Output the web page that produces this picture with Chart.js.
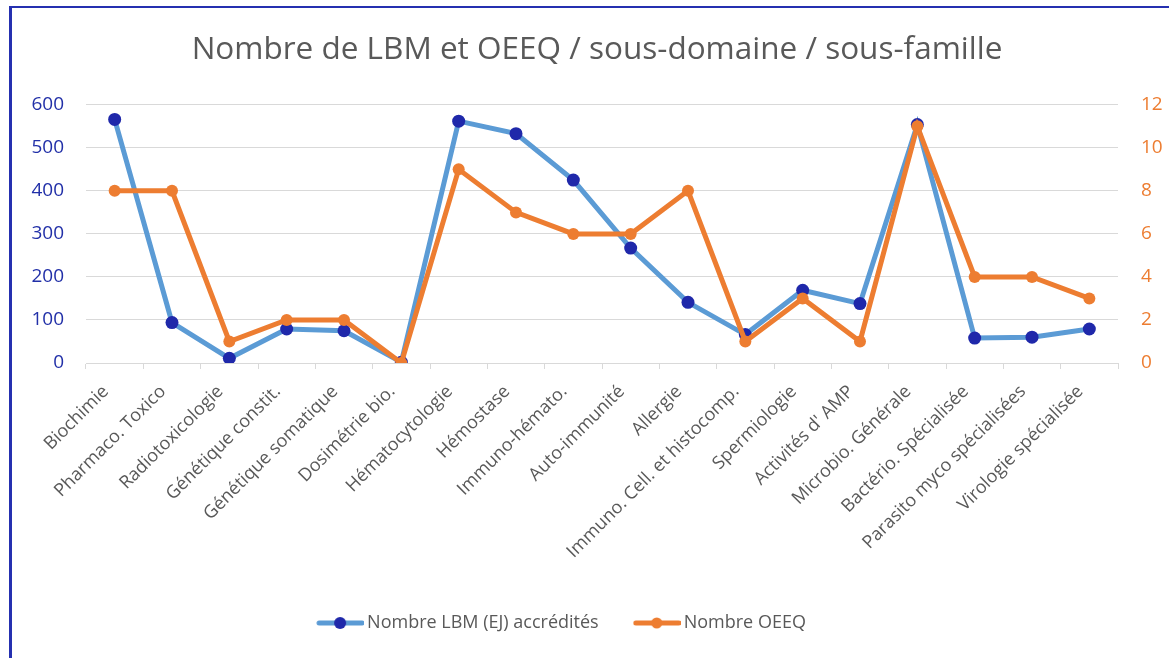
<!DOCTYPE html>
<html>
<head>
<meta charset="utf-8">
<script src="https://cdn.jsdelivr.net/npm/chart.js@4.4.0/dist/chart.umd.min.js"></script>
<style>
body { margin: 0; background: #fff; }
#wrap { position: relative; width: 1169px; height: 658px; overflow: hidden; }
#frame { position: absolute; left: 9px; top: 6px; width: 1300px; height: 800px; border-top: 2px solid #2530B0; border-left: 3px solid #2530B0; pointer-events: none; }
</style>
</head>
<body>
<div id="wrap">
<canvas id="chart" width="1169" height="658"></canvas>
<div id="frame"></div>
</div>
<script>
const categories = ["Biochimie", "Pharmaco. Toxico", "Radiotoxicologie", "Génétique constit.", "Génétique somatique", "Dosimétrie bio.", "Hématocytologie", "Hémostase", "Immuno-hémato.", "Auto-immunité", "Allergie", "Immuno. Cell. et histocomp.", "Spermiologie", "Activités d' AMP", "Microbio. Générale", "Bactério. Spécialisée", "Parasito myco spécialisées", "Virologie spécialisée"];
const lbmValues = [566, 94, 11, 79, 75, 2, 562, 533, 425, 267, 141, 66, 169, 138, 554, 58, 60, 79];
const oeeqValues = [8, 8, 1, 2, 2, 0, 9, 7, 6, 6, 8, 1, 3, 1, 11, 4, 4, 3];

const blueLine = "#5B9BD5";
const blueDot = "#1F28AA";
const orange = "#ED7D31";
const grey = "#595959";
const font = "'Open Sans', 'DejaVu Sans', sans-serif";

// legend marker: line with a dot in the middle, drawn in the right part of the image
function legendMarker(lineColor, dotColor, r) {
	const c = document.createElement('canvas');
	c.width = 48;
	c.height = 14;
	const g = c.getContext('2d');
	g.strokeStyle = lineColor;
	g.lineWidth = 5;
	g.lineCap = 'round';
	g.beginPath();
	g.moveTo(3, 7);
	g.lineTo(46, 7);
	g.stroke();
	g.fillStyle = dotColor;
	g.beginPath();
	g.arc(24, 7, r, 0, Math.PI * 2);
	g.fill();
	return c;
}

// move title and legend a little off the middle, as in the picture
const shiftBlocks = {
	id: 'shiftBlocks',
	beforeDraw(chart) {
		if (chart.titleBlock) { chart.titleBlock.left = 25; chart.titleBlock.right = 1169; }
		if (chart.legend) { chart.legend.left = 0; chart.legend.right = 1128; }
	}
};

const chart = new Chart(document.getElementById('chart'), {
	type: 'line',
	data: {
		labels: categories,
		datasets: [{
			label: 'Nombre LBM (EJ) accrédités',
			data: lbmValues,
			yAxisID: 'y',
			borderColor: blueLine,
			backgroundColor: blueDot,
			pointBackgroundColor: blueDot,
			pointBorderWidth: 0,
			pointRadius: 6.5,
			borderWidth: 5,
			tension: 0,
			order: 2,
			legendMarker: legendMarker(blueLine, blueDot, 6)
		},
		{
			label: 'Nombre OEEQ',
			data: oeeqValues,
			yAxisID: 'y1',
			borderColor: orange,
			backgroundColor: orange,
			pointBackgroundColor: orange,
			pointBorderWidth: 0,
			pointRadius: 6,
			borderWidth: 5,
			tension: 0,
			order: 1,
			legendMarker: legendMarker(orange, orange, 5.5)
		}]
	},
	plugins: [shiftBlocks],
	options: {
		responsive: false,
		animation: false,
		layout: { padding: { left: 0, right: 0, top: 0, bottom: 16 } },
		plugins: {
			title: {
				display: true,
				text: 'Nombre de LBM et OEEQ / sous-domaine / sous-famille',
				color: grey,
				font: { family: font, size: 31.5, weight: 'normal' },
				padding: { top: 31, bottom: 36 }
			},
			legend: {
				position: 'bottom',
				labels: {
					color: grey,
					font: { family: font, size: 18 },
					usePointStyle: true,
					pointStyleWidth: 36,
					boxHeight: 14,
					padding: 40,
					sort: (a, b) => a.datasetIndex - b.datasetIndex,
					generateLabels: function (chart) {
						const items = Chart.defaults.plugins.legend.labels.generateLabels(chart);
						items.forEach(function (it) {
							it.pointStyle = chart.data.datasets[it.datasetIndex].legendMarker;
						});
						return items;
					}
				}
			},
			tooltip: { enabled: false }
		},
		scales: {
			x: {
				offset: true,
				grid: { offset: true, drawOnChartArea: false, drawTicks: true, tickLength: 6, color: '#D9D9D9' },
				border: { color: '#D9D9D9', width: 1 },
				ticks: {
					color: grey,
					font: { family: font, size: 18 },
					maxRotation: 45,
					minRotation: 45,
					autoSkip: false,
					padding: 12,
					labelOffset: -9
				},
				afterFit: function (scale) { scale.height = 211; }
			},
			y: {
				position: 'left',
				min: 0,
				max: 600,
				grid: { color: '#D9D9D9', drawTicks: false },
				border: { display: false },
				ticks: {
					stepSize: 100,
					color: '#2230A8',
					font: { family: font, size: 19 },
					padding: 22
				},
				afterFit: function (scale) { scale.width = 86; }
			},
			y1: {
				position: 'right',
				min: 0,
				max: 12,
				grid: { drawOnChartArea: false, drawTicks: false },
				border: { display: false },
				ticks: {
					stepSize: 2,
					color: orange,
					font: { family: font, size: 19 },
					padding: 23
				},
				afterFit: function (scale) { scale.width = 51; }
			}
		}
	}
});
</script>
</body>
</html>
